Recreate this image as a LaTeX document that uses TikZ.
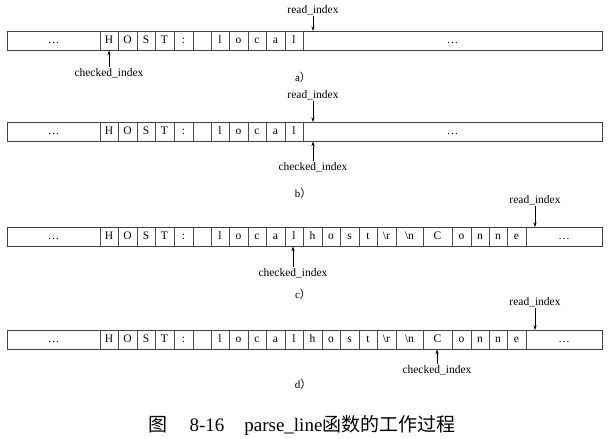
\documentclass[tikz,border=0pt]{standalone}
\usepackage{fontspec}
\setmainfont{Liberation Serif}
\newfontfamily\cjk{Noto Sans CJK SC}
\usetikzlibrary{arrows.meta,positioning,calc}

\begin{document}
\begin{tikzpicture}[x=1pt,y=-1pt,
    cell/.style={draw=black!70, line width=0.5pt, rectangle, inner sep=0pt, outer sep=0pt,
      minimum height=19.5pt, text height=7.5pt, text depth=1.5pt, anchor=north west,
      font=\fontsize{11.5}{13}\selectfont},
    frame/.style={draw=black!75, line width=0.9pt},
    lbl/.style={inner sep=1pt, font=\fontsize{11.5}{13}\selectfont},
    ptr/.style={-{Stealth[length=4.5pt,width=3pt]}, line width=0.5pt},
    sub/.style={font=\fontsize{11}{13}\selectfont}]
\useasboundingbox (0,0) rectangle (613,439);

% buffer contents
\def\shortbuf{7/100/\dots, 100/118/H, 118/137/O, 137/155/S, 155/174/T, 174/193/:, 193/211/{},
  211/229/l, 229/248/o, 248/266/c, 266/285/a, 285/303/l, 303/602/\dots}
\def\longbuf{7/100/\dots, 100/118/H, 118/137/O, 137/155/S, 155/174/T, 174/193/:, 193/211/{},
  211/229/l, 229/248/o, 248/266/c, 266/285/a, 285/303/l, 303/322/h, 322/340/o, 340/359/s,
  359/377/t, 377/396/\textbackslash r, 396/423/\textbackslash n, 423/452/C, 452/471/o,
  471/489/n, 489/507/n, 507/526/e, 526/602/\dots}

% a)
\foreach [count=\i] \l/\r/\t in \shortbuf {
  \pgfmathsetmacro{\w}{\r-\l}
  \node[cell, minimum width=\w pt] (a\i) at (\l,31) {\t};
}
\draw[frame] (a1.north west) rectangle (a13.south east);
\node[lbl] (ra) at (313,10) {read\_index};
\draw[ptr] (ra) -- (ra |- a13.north);
\node[lbl] (ca) at (109,73) {checked\_index};
\draw[ptr] (ca) -- (ca |- a2.south);
\node[sub] (sa) at (303,77) {a{\cjk ）}};

% b)
\foreach [count=\i] \l/\r/\t in \shortbuf {
  \pgfmathsetmacro{\w}{\r-\l}
  \node[cell, minimum width=\w pt] (b\i) at (\l,122) {\t};
}
\draw[frame] (b1.north west) rectangle (b13.south east);
\node[lbl] (rb) at (313,95) {read\_index};
\draw[ptr] (rb) -- (rb |- b13.north);
\node[lbl] (cb) at (313,167) {checked\_index};
\draw[ptr] (cb) -- (cb |- b13.south);
\node[sub] (sb) at (303,193) {b{\cjk ）}};

% c)
\foreach [count=\i] \l/\r/\t in \longbuf {
  \pgfmathsetmacro{\w}{\r-\l}
  \node[cell, minimum width=\w pt] (c\i) at (\l,227) {\t};
}
\draw[frame] (c1.north west) rectangle (c24.south east);
\node[lbl] (rc) at (535,200) {read\_index};
\draw[ptr] (rc) -- (rc |- c24.north);
\node[lbl] (cc) at (293,273) {checked\_index};
\draw[ptr] (cc) -- (cc |- c12.south);
\node[sub] (sc) at (303,294) {c{\cjk ）}};

% d)
\foreach [count=\i] \l/\r/\t in \longbuf {
  \pgfmathsetmacro{\w}{\r-\l}
  \node[cell, minimum width=\w pt] (d\i) at (\l,330) {\t};
}
\draw[frame] (d1.north west) rectangle (d24.south east);
\node[lbl] (rd) at (535,302) {read\_index};
\draw[ptr] (rd) -- (rd |- d24.north);
\node[lbl] (cd) at (437,370) {checked\_index};
\draw[ptr] (cd) -- (cd |- d19.south);
\node[sub] (sd) at (303,384) {d{\cjk ）}};

% caption
\node[font=\fontsize{19}{22}\selectfont] (title) at (302,425)
  {{\cjk 图}\hspace{22pt}8-16\hspace{20pt}parse\_line{\cjk 函数的工作过程}};
\end{tikzpicture}
\end{document}
